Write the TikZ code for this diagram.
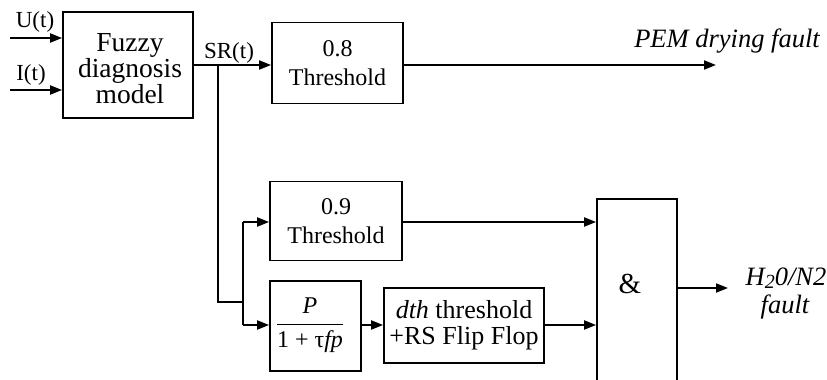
\documentclass[tikz,border=0pt]{standalone}
\usepackage{fontspec}
\setmainfont{Liberation Serif}
\usetikzlibrary{arrows.meta}
\begin{document}
\begin{tikzpicture}[x=1pt,y=-1pt,
  txt/.style={font=\fontsize{23}{22}\selectfont},
  blk/.style={draw, line width=1.8pt, align=center, inner sep=0pt, txt},
  lbl/.style={inner sep=0pt, align=center, txt},
  wire/.style={line width=2pt},
  arr/.style={wire, -{Triangle[length=12pt,width=9pt]}}]
\clip (0,0) rectangle (827,380);

% blocks
\node[blk, minimum width=130pt, minimum height=106pt] (fz) at (128,65) {};
\node[lbl, font=\fontsize{27.5}{25}\selectfont] (fzt) at (130,69) {Fuzzy\\diagnosis\\model};
\node[blk, minimum width=131pt, minimum height=81pt, font=\fontsize{24}{29}\selectfont] (t8) at (337.5,63) {0.8\\Threshold};
\node[blk, minimum width=132pt, minimum height=79pt, font=\fontsize{24}{29}\selectfont] (t9) at (336,221) {0.9\\Threshold};
\node[blk, minimum width=91pt, minimum height=90pt] (pf) at (315.5,326) {};
\node[lbl, font=\fontsize{24}{26}\selectfont] (pft) at (310,325)
  {$\displaystyle\frac{\mbox{\itshape P}}{\mbox{1 + τ\itshape fp}}$};
\node[blk, minimum width=160pt, minimum height=75pt, font=\fontsize{26}{26}\selectfont] (dth) at (464,325.5)
  {\textit{dth} threshold\\+RS Flip Flop};
\node[draw, line width=1.8pt, minimum width=80pt, minimum height=200pt, inner sep=0pt, anchor=north] (and) at (637,198) {};
\node[lbl, font=\fontsize{29}{29}\selectfont] (amp) at (630,284) {\&};

% labels
\node[lbl] (ul) at (35,22) {U(t)};
\node[lbl] (il) at (31,75) {I(t)};
\node[lbl] (srl) at (229,53) {SR(t)};
\node[lbl, font=\fontsize{26.5}{26}\itshape] (pem) at (727,41) {PEM drying fault};
\node[lbl, font=\fontsize{26.5}{27}\itshape, anchor=base] (h2o) at (786,285)
  {H\raisebox{-0.15em}{\fontsize{20}{20}\selectfont 2}0/N2};
\node[lbl, font=\fontsize{26.5}{27}\itshape, anchor=base] (flt) at (785,313) {fault};

% inputs
\coordinate (u0) at (10,38);
\coordinate (i0) at (10,90);
\draw[arr] (u0) -- (u0 -| fz.west);
\draw[arr] (i0) -- (i0 -| fz.west);

% fuzzy output and branches
\coordinate (br) at (218,65);
\coordinate (bl) at (218,302);
\coordinate (bs) at (243,302);
\draw[arr] (fz.east |- br) -- (br -| t8.west);
\draw[wire] (br) -- (bl) -- (bs);
\coordinate (b9) at (243,222);
\coordinate (bp) at (243,325);
\draw[wire] (b9) -- (bp);
\draw[arr] (b9) -- (b9 -| t9.west);
\draw[arr] (bp) -- (bp -| pf.west);

% PEM drying output
\coordinate (pemEnd) at (716,65);
\draw[arr] (t8.east |- pemEnd) -- (pemEnd);

% chain to the AND gate
\draw[arr] (pf.east |- bp) -- (bp -| dth.west);
\draw[arr] (t9.east |- b9) -- (b9 -| and.west);
\draw[arr] (dth.east |- bp) -- (bp -| and.west);
\coordinate (hEnd) at (728,288);
\draw[arr] (and.east |- hEnd) -- (hEnd);
\end{tikzpicture}
\end{document}
